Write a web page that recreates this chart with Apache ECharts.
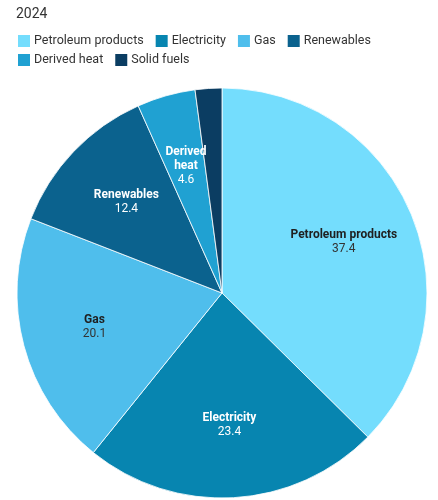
<!DOCTYPE html>
<html>
<head>
<meta charset="utf-8">
<script src="https://cdn.jsdelivr.net/npm/echarts@6/dist/echarts.min.js"></script>
<style>
  html, body { margin: 0; padding: 0; background: #ffffff; }
  #chart { width: 438px; height: 500px; }
</style>
</head>
<body>
<div id="chart"></div>
<script>
// Final energy consumption by fuel, 2024 (%)
const year = '2024';
const fuels = ['Petroleum products', 'Electricity', 'Gas', 'Renewables', 'Derived heat', 'Solid fuels'];
const shares = [37.4, 23.4, 20.1, 12.4, 4.6, 2.1];
const fuelColors = ['#74ddfd', '#0785b0', '#4fbeec', '#0b628e', '#20a1d2', '#0b3d62'];
const darkTextFuels = ['Petroleum products', 'Gas'];
const hiddenLabelFuels = ['Solid fuels'];

const FONT = 'Roboto, "Noto Sans", sans-serif';
const CENTER = [222, 293];
const R = 205;

function labelFor(name) {
  const dark = darkTextFuels.includes(name);
  const c = dark ? '#1f1f1f' : '#ffffff';
  return {
    show: !hiddenLabelFuels.includes(name),
    position: 'inside',
    formatter: p => {
      const n = p.value < 5 ? p.name.replace(' ', '\n') : p.name;
      return n.split('\n').map(s => '{n|' + s + '}').join('\n') + '\n{v|' + p.value.toFixed(1) + '}';
    },
    rich: {
      n: { fontFamily: FONT, fontSize: 12, fontWeight: 'bold', color: c, lineHeight: 14, align: 'center' },
      v: { fontFamily: FONT, fontSize: 12, fontWeight: 'normal', color: dark ? '#333333' : '#ffffff', lineHeight: 14, align: 'center' }
    }
  };
}

const sliceData = fuels.map((name, i) => ({
  name,
  value: shares[i],
  itemStyle: { color: fuelColors[i] }
}));

const labelData = fuels.map((name, i) => ({
  name,
  value: shares[i],
  label: labelFor(name)
}));

const legendCommon = {
  left: 16,
  orient: 'horizontal',
  icon: 'rect',
  itemWidth: 14,
  itemHeight: 14,
  itemGap: 10,
  selectedMode: false,
  textStyle: { fontFamily: FONT, fontSize: 12.5, color: '#333333', padding: [0, 0, 0, -2] },
  padding: 0
};

const chart = echarts.init(document.getElementById('chart'), null, { renderer: 'canvas' });
chart.setOption({
  animation: false,
  color: fuelColors,
  title: {
    text: year,
    left: 16,
    top: 7,
    padding: 0,
    textStyle: { fontFamily: FONT, fontSize: 14, fontWeight: 'normal', color: '#333333' }
  },
  legend: [
    Object.assign({}, legendCommon, { top: 33, data: fuels.slice(0, 4) }),
    Object.assign({}, legendCommon, { top: 52, data: fuels.slice(4) })
  ],
  series: [
    {
      type: 'pie',
      center: CENTER,
      radius: [0, R],
      startAngle: 90,
      clockwise: true,
      silent: true,
      label: { show: false },
      labelLine: { show: false },
      itemStyle: { borderColor: '#ffffff', borderWidth: 0.8 },
      data: sliceData
    },
    {
      // transparent ring used only to place the labels further out
      type: 'pie',
      center: CENTER,
      radius: [53, R],
      startAngle: 90,
      clockwise: true,
      silent: true,
      itemStyle: { color: 'rgba(0,0,0,0)', borderWidth: 0 },
      labelLine: { show: false },
      data: labelData
    }
  ]
});
</script>
</body>
</html>
